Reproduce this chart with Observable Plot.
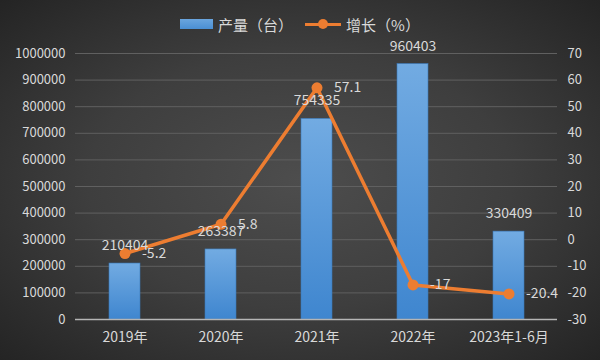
<!DOCTYPE html>
<html>
<head>
<meta charset="utf-8">
<script src="https://cdn.jsdelivr.net/npm/d3@7"></script>
<script src="https://cdn.jsdelivr.net/npm/@observablehq/plot@0.6"></script>
<style>
  html, body { margin: 0; padding: 0; background: #2a2a2a; }
  #wrap {
    position: relative; width: 600px; height: 360px; overflow: hidden;
    background: radial-gradient(ellipse at 50% 50%, #4d4d4d 0%, #3e3e3e 50%, #242424 100%);
    font-family: "Noto Sans CJK SC", "Noto Sans", sans-serif; color: #d9d9d9;
  }
  #legend {
    height: 40px; display: flex; align-items: center; justify-content: center;
    font-size: 15px; color: #d9d9d9; padding-top: 8px; box-sizing: border-box;
  }
  .sw-bar { width: 33px; height: 10px; background: linear-gradient(#6aa5de, #4a8fd4); margin-right: 5px; }
  .sw-line { position: relative; width: 36px; height: 12px; margin: 0 5px 0 12px; }
  .sw-line::before { content: ""; position: absolute; left: 0; right: 0; top: 4.5px; height: 3px; background: #ed7d31; }
  .sw-line::after { content: ""; position: absolute; left: 13px; top: 1px; width: 10px; height: 10px; border-radius: 50%; background: #ed7d31; }
  svg { display: block; overflow: visible; }
</style>
</head>
<body>
<div id="wrap">
  <div id="legend">
    <span class="sw-bar"></span><span>产量（台）</span>
    <span class="sw-line"></span><span>增长（%）</span>
  </div>
  <div id="chart"></div>
</div>
<script>
const categories = ["2019年", "2020年", "2021年", "2022年", "2023年1-6月"];
const production = [210404, 263387, 754335, 960403, 330409];
const growth = [-5.2, 5.8, 57.1, -17, -20.4];
const prodTicks = [0, 100000, 200000, 300000, 400000, 500000, 600000, 700000, 800000, 900000, 1000000];
const growthTicks = [-30, -20, -10, 0, 10, 20, 30, 40, 50, 60, 70];

// map growth (%) domain [-30, 70] onto production domain [0, 1000000]
const toY = g => (g + 30) / 100 * 1000000;

const data = categories.map((c, i) => ({cat: c, prod: production[i], g: growth[i]}));

const textColor = "#d9d9d9";

const defs = () => {
  const d = d3.create("svg:defs");
  const lg = d.append("linearGradient").attr("id", "barGrad").attr("x1", 0).attr("y1", 0).attr("x2", 0).attr("y2", 1);
  lg.append("stop").attr("offset", "0%").attr("stop-color", "#72abe2");
  lg.append("stop").attr("offset", "100%").attr("stop-color", "#3f86cf");
  return d.node();
};

const chart = Plot.plot({
  width: 600,
  height: 320,
  marginTop: 13,
  marginBottom: 41,
  marginLeft: 75,
  marginRight: 43,
  style: {background: "transparent", color: textColor, fontSize: "13px", fontFamily: "'Noto Sans CJK SC', 'Noto Sans', sans-serif", overflow: "visible"},
  x: {domain: categories, paddingInner: 0.68, paddingOuter: 0.34, label: null},
  y: {domain: [0, 1000000], label: null},
  marks: [
    defs,
    Plot.gridY(prodTicks.filter(d => d > 0), {stroke: "#606060", strokeOpacity: 1, strokeWidth: 1}),
    Plot.axisY({ticks: prodTicks, tickSize: 0, tickPadding: 10, tickFormat: d => String(d), label: null, fill: textColor}),
    Plot.axisY({anchor: "right", ticks: growthTicks.map(toY), tickSize: 0, tickPadding: 10, tickFormat: d => String(Math.round(d / 10000 - 30)), label: null, fill: textColor}),
    Plot.axisX({tickSize: 0, tickPadding: 13, label: null, fill: textColor, fontSize: 14}),
    Plot.barY(data, {x: "cat", y: "prod", fill: "url(#barGrad)", stroke: "#3a78b8", strokeWidth: 0.6}),
    Plot.ruleY([0], {stroke: "#b5b5b5", strokeWidth: 1.5}),
    Plot.line(data, {x: "cat", y: d => toY(d.g), stroke: "#ed7d31", strokeWidth: 3.5}),
    Plot.dot(data, {x: "cat", y: d => toY(d.g), r: 5.5, fill: "#ed7d31", stroke: "none"}),
    Plot.text(data, {x: "cat", y: "prod", text: d => String(d.prod), dy: -18, fill: textColor, fontSize: 14}),
    Plot.text(data, {x: "cat", y: d => toY(d.g), text: d => String(d.g), dx: 17, textAnchor: "start", fill: textColor, fontSize: 14})
  ]
});

document.getElementById("chart").appendChild(chart);
</script>
</body>
</html>
